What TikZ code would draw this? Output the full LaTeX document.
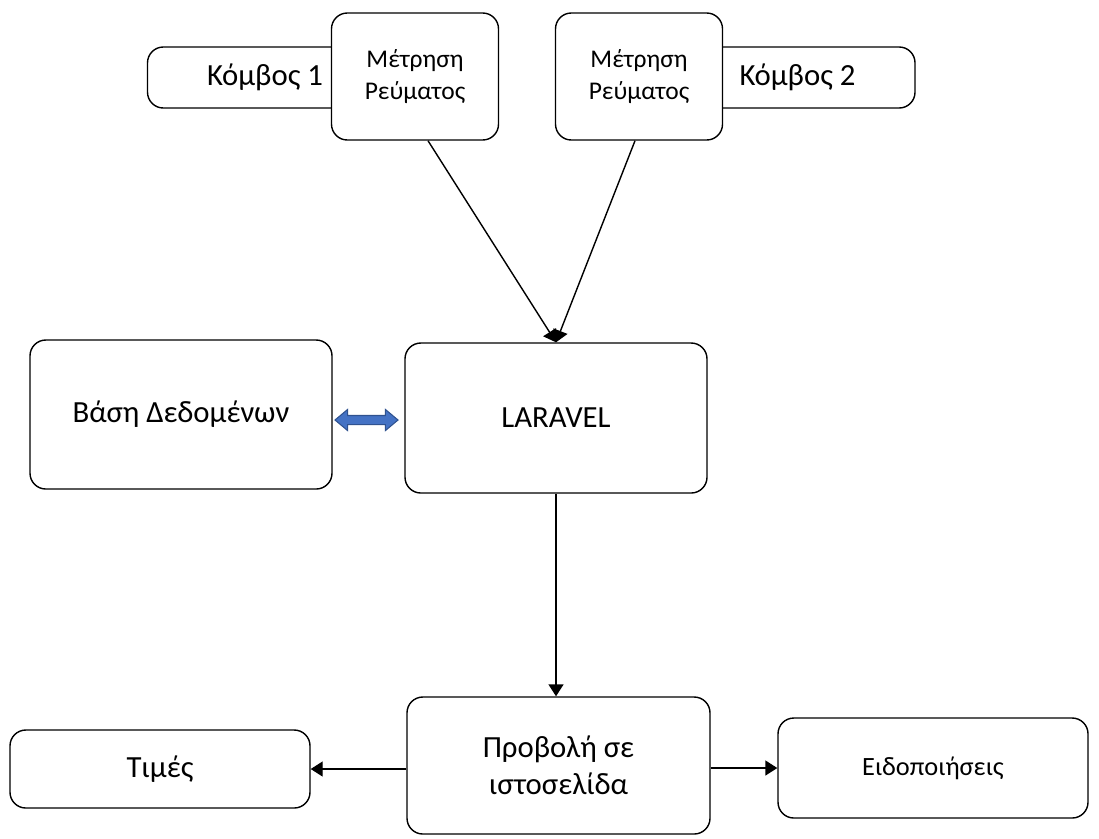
\documentclass[tikz,border=0pt]{standalone}
\usepackage{fontspec}
\setmainfont{Carlito}
\usetikzlibrary{arrows.meta,shapes.arrows}
\tikzset{
	block/.style = {align=center, inner sep=2pt, text=black, draw=black,
		line width=0.8pt, rectangle, rounded corners=9pt, fill=white},
	bigbox/.style = {block, minimum width=6.04cm, font=\fontsize{17.5}{21}\selectfont},
	meter/.style = {block, minimum width=3.34cm, minimum height=2.54cm,
		font=\fontsize{14.5}{18}\selectfont},
	knode/.style = {block, minimum width=4.7cm, minimum height=1.22cm,
		font=\fontsize{17.5}{21}\selectfont},
	link/.style = {draw=black, line width=0.8pt, -{Triangle[length=2.4mm,width=3mm]}},
	dbl/.style = {double arrow, draw={rgb,255:red,47;green,82;blue,143},
		fill={rgb,255:red,68;green,114;blue,196}, line width=0.6pt,
		inner sep=0pt, inner ysep=0.08cm, minimum height=1.26cm,
		double arrow head extend=0.12cm, double arrow tip angle=80}
}

\begin{document}
\begin{tikzpicture}[x=1cm, y=1cm]
\useasboundingbox (0,0) rectangle (21.98,-16.76);
%----------------- Nodes at the top --------------
\node (k1) [knode] at (5.3,-1.55) {Κόμβος 1};
\node (m1) [meter] at (8.3,-1.53) {Μέτρηση\\Ρεύματος};
\node (k2) [knode] at (15.95,-1.55) {Κόμβος 2};
\node (m2) [meter] at (12.78,-1.53) {Μέτρηση\\Ρεύματος};
%----------------- Middle row --------------
\node (lar) [bigbox, minimum height=3cm] at (11.12,-8.36) {LARAVEL};
\node (base) [bigbox, minimum height=2.98cm] at (3.62,-8.29) {Βάση Δεδομένων};
%----------------- Bottom row --------------
\node (pro) [bigbox, minimum height=2.74cm, minimum width=6.06cm] at (11.17,-15.31) {Προβολή σε\\ιστοσελίδα};
\node (tim) [bigbox, minimum height=1.56cm, minimum width=6cm] at (3.2,-15.38) {Τιμές};
\node (eid) [bigbox, minimum height=2cm, minimum width=6.2cm,
	font=\fontsize{15}{18}\selectfont] at (18.66,-15.36) {Ειδοποιήσεις};
%----------------- Connectors --------------
\draw [link] ([xshift=0.26cm]m1.south) -- (lar.north);
\draw [link] ([xshift=-0.08cm]m2.south) -- (lar.north);
\draw [link] (lar.south) -- (lar.south |- pro.north);
\draw [link] (pro.west |- tim.east) -- (tim.east);
\draw [link] (pro.east |- eid.west) -- (eid.west);
\node (db) [dbl] at (7.33,-8.4) {};
\end{tikzpicture}
\end{document}
